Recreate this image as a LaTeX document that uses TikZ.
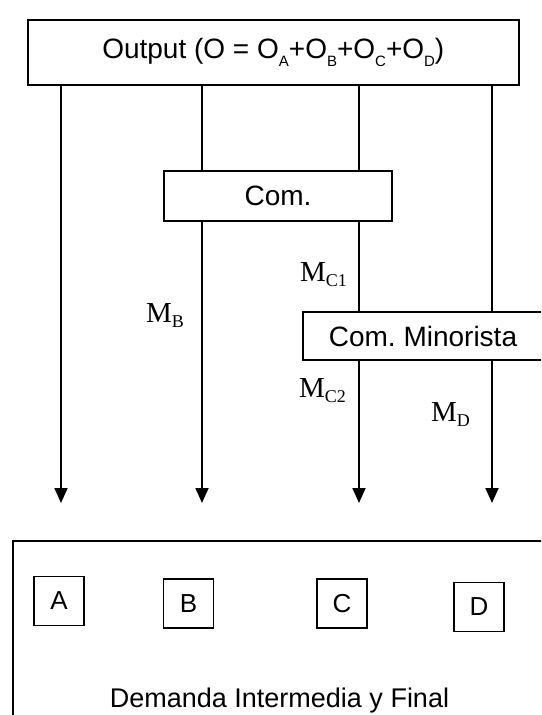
\documentclass[tikz,border=0pt]{standalone}
\usepackage{fontspec}
\setmainfont{Liberation Sans}
\newfontfamily\serifM{Liberation Serif}
\usetikzlibrary{arrows.meta}
\newcommand{\osub}[1]{\raisebox{-0.6ex}{\fontsize{15}{15}\selectfont #1}}
\newcommand{\mlab}[1]{{\serifM\fontsize{29}{29}\selectfont M\raisebox{-0.4ex}{\fontsize{18}{18}\selectfont #1}}}
\begin{document}
\begin{tikzpicture}[x=1pt,y=-1pt,
  box/.style={draw, line width=1.6pt, fill=white, inner sep=0pt, font=\fontsize{28}{30}\selectfont},
  letterbox/.style={draw, line width=1.5pt, minimum width=50pt, minimum height=49pt, inner sep=0pt, font=\fontsize{26}{26}\selectfont},
  flow/.style={line width=1.8pt, -{Triangle[length=15pt,width=13pt]}},
  seg/.style={line width=1.8pt},
  mlabel/.style={anchor=base west, inner sep=0pt},
  frame/.style={draw, line width=2pt, inner sep=0pt}
]
\fill[white] (0,0) rectangle (541,715);
\clip (0,0) rectangle (541,715);
% boxes
\node[box, minimum width=491pt, minimum height=65pt] (out) at (273.3,52.4) {Output (O = O\osub{A}+O\osub{B}+O\osub{C}+O\osub{D})};
\node[box, minimum width=228pt, minimum height=50pt] (com) at (278,196) {Com.};
\node[box, minimum width=240pt, minimum height=48pt] (minor) at (423,336) {Com.\ Minorista};
% arrow ends
\coordinate (tA) at (61,503);
\coordinate (tB) at (202,503);
\coordinate (tC) at (359,503);
\coordinate (tD) at (492,503);
% connectors
\draw[flow] (out.south -| tA) -- (tA);
\draw[seg] (out.south -| tB) -- (com.north -| tB);
\draw[flow] (com.south -| tB) -- (tB);
\draw[seg] (out.south -| tC) -- (com.north -| tC);
\draw[seg] (com.south -| tC) -- (minor.north -| tC);
\draw[flow] (minor.south -| tC) -- (tC);
\draw[seg] (out.south -| tD) -- (minor.north -| tD);
\draw[flow] (minor.south -| tD) -- (tD);
% labels
\node[mlabel] (mb) at (146,322) {\mlab{B}};
\node[mlabel] (mc1) at (300,281) {\mlab{C1}};
\node[mlabel] (mc2) at (299,397) {\mlab{C2}};
\node[mlabel] (md) at (431,421) {\mlab{D}};
% demand frame
\node[frame, minimum width=560pt, minimum height=240pt, anchor=north west] (dem) at (12,540) {};
\node[letterbox] (a) at (59,601) {A};
\node[letterbox] (b) at (188.5,603.5) {B};
\node[letterbox] (c) at (342,603.5) {C};
\node[letterbox] (d) at (479,607) {D};
\node[anchor=base, inner sep=0pt, font=\fontsize{27}{27}\selectfont] (demt) at (279.5,707) {Demanda Intermedia y Final};
\end{tikzpicture}
\end{document}
